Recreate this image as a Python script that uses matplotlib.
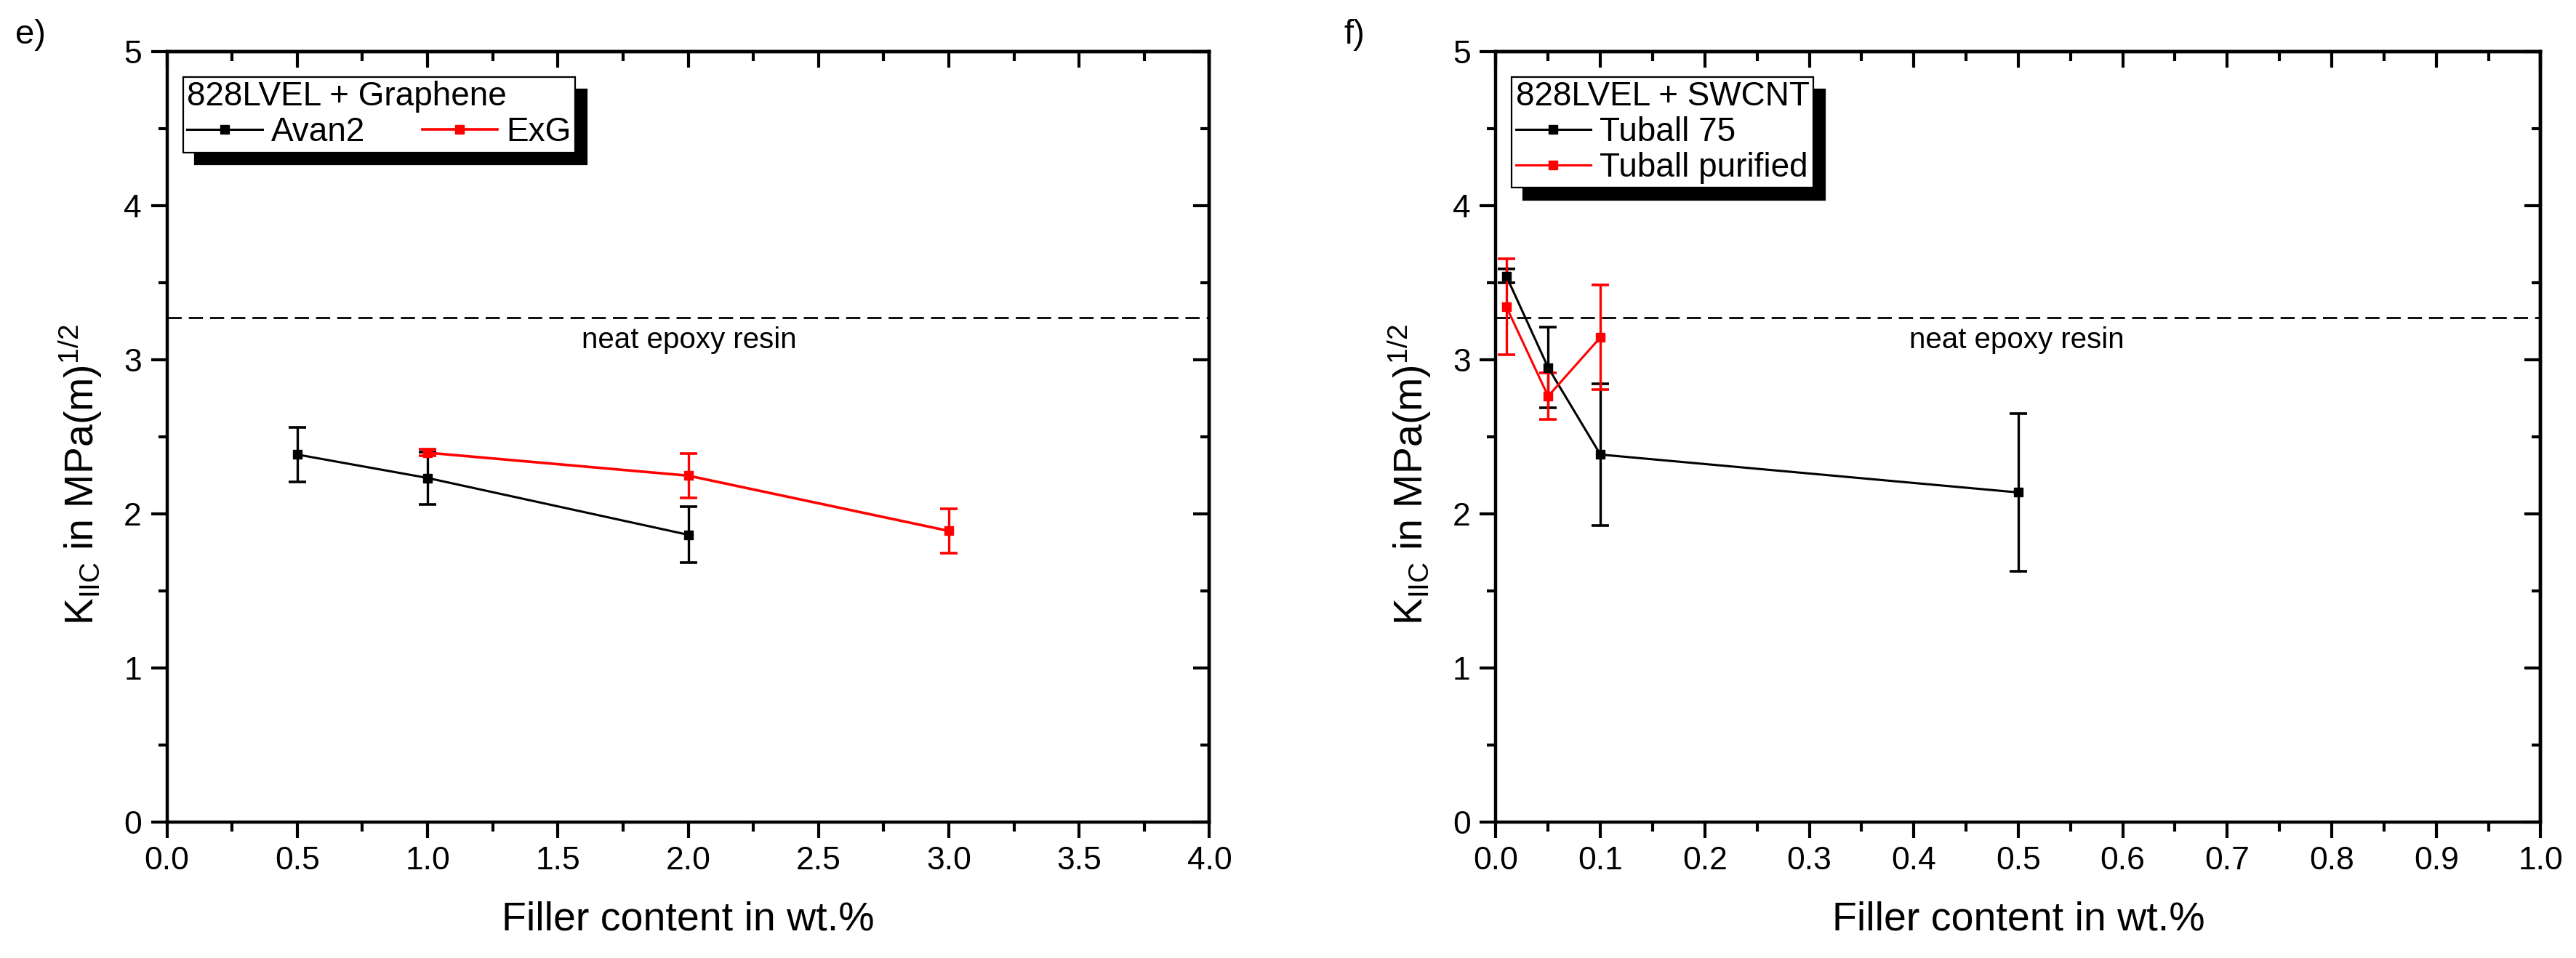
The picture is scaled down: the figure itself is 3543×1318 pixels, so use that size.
import matplotlib
matplotlib.use("Agg")
import matplotlib.pyplot as plt
from matplotlib.ticker import MultipleLocator

plt.rcParams['font.family'] = ['Liberation Sans', 'DejaVu Sans']
plt.rcParams['mathtext.fontset'] = 'custom'
plt.rcParams['mathtext.rm'] = 'Liberation Sans'
plt.rcParams['mathtext.it'] = 'Liberation Sans:italic'

# panel e) graphene
avan2_x = [0.5, 1.0, 2.0]
avan2_y = [2.385, 2.233, 1.864]
avan2_err = [0.177, 0.17, 0.183]
exg_x = [1.0, 2.0, 3.0]
exg_y = [2.397, 2.248, 1.889]
exg_err = [0.022, 0.145, 0.145]

# panel f) SWCNT
t75_x = [0.01, 0.05, 0.1, 0.5]
t75_y = [3.544, 2.950, 2.385, 2.139]
t75_err = [0.045, 0.262, 0.46, 0.512]
tpur_x = [0.01, 0.05, 0.1]
tpur_y = [3.345, 2.764, 3.146]
tpur_err = [0.31, 0.153, 0.34]

neat_resin = 3.275

fig = plt.figure(figsize=(35.43, 13.18), dpi=100)
ax1 = fig.add_axes([0.0648, 0.1422, 0.4047, 0.8036])
ax2 = fig.add_axes([0.5807, 0.1422, 0.4056, 0.8036])

lw_axis = 3.2


def style_axis(ax, xmax, xmaj, xmin):
    ax.set_xlim(0, xmax)
    ax.set_ylim(0, 5)
    ax.xaxis.set_major_locator(MultipleLocator(xmaj))
    ax.xaxis.set_minor_locator(MultipleLocator(xmin))
    ax.yaxis.set_major_locator(MultipleLocator(1))
    ax.yaxis.set_minor_locator(MultipleLocator(0.5))
    for s in ax.spines.values():
        s.set_linewidth(lw_axis)
    ax.tick_params(which='both', direction='out', width=3, labelsize=32)
    ax.tick_params(which='major', length=16)
    ax.tick_params(which='minor', length=9)
    ax.tick_params(axis='x', pad=8)
    ax.tick_params(axis='y', pad=9)

    top = ax.secondary_xaxis('top')
    top.xaxis.set_major_locator(MultipleLocator(xmaj))
    top.xaxis.set_minor_locator(MultipleLocator(xmin))
    top.tick_params(which='both', direction='in', width=3, labeltop=False)
    top.tick_params(which='major', length=16)
    top.tick_params(which='minor', length=9)
    top.spines['top'].set_linewidth(lw_axis)

    right = ax.secondary_yaxis('right')
    right.yaxis.set_major_locator(MultipleLocator(1))
    right.yaxis.set_minor_locator(MultipleLocator(0.5))
    right.tick_params(which='both', direction='in', width=3, labelright=False)
    right.tick_params(which='major', length=16)
    right.tick_params(which='minor', length=9)
    right.spines['right'].set_linewidth(lw_axis)

    ax.axhline(neat_resin, color='black', lw=2.0, linestyle=(0, (7, 3.5)), zorder=1)
    ax.set_xlabel('Filler content in wt.%', fontsize=40)
    ax.xaxis.set_label_coords(0.5, -0.103)
    ax.set_ylabel(r'K$_{\mathrm{IIC}}$ in MPa(m)$^{\mathrm{1/2}}$', fontsize=40)
    ax.yaxis.set_label_coords(-0.0603, 0.4505)


def series(ax, x, y, err, color, label, lw):
    ax.errorbar(x, y, yerr=err, fmt='none', ecolor=color, elinewidth=2.4,
                capsize=8.5, capthick=2.6, zorder=3)
    ax.plot(x, y, color=color, lw=lw, marker='s', markersize=8,
            label=label, zorder=4)


style_axis(ax1, 4.0, 0.5, 0.25)
series(ax1, avan2_x, avan2_y, avan2_err, 'black', 'Avan2', 2.2)
series(ax1, exg_x, exg_y, exg_err, 'red', 'ExG', 2.6)
ax1.text(1.59, 3.13, 'neat epoxy resin', fontsize=29, va='center', ha='left')

style_axis(ax2, 1.0, 0.1, 0.05)
series(ax2, t75_x, t75_y, t75_err, 'black', 'Tuball 75', 2.2)
series(ax2, tpur_x, tpur_y, tpur_err, 'red', 'Tuball purified', 2.2)
ax2.text(0.396, 3.13, 'neat epoxy resin', fontsize=29, va='center', ha='left')

shadow = {'ox': 11.5, 'oy': -12, 'facecolor': 'black', 'edgecolor': 'black', 'alpha': 1}
leg_kw = dict(loc='upper left', bbox_transform=fig.transFigure, fontsize=33,
              title_fontsize=33, alignment='left', fancybox=False, framealpha=1,
              edgecolor='black', borderaxespad=0, borderpad=0.12, labelspacing=0.1,
              handlelength=2.25, handletextpad=0.28, shadow=shadow)

leg1 = ax1.legend(title='828LVEL + Graphene', ncol=2, columnspacing=1.7,
                  bbox_to_anchor=(0.0711, 0.9196), **leg_kw)
leg2 = ax2.legend(title='828LVEL + SWCNT', ncol=1,
                  bbox_to_anchor=(0.5868, 0.9196), **leg_kw)
for leg in (leg1, leg2):
    leg.get_frame().set_linewidth(1.6)
    leg.set_zorder(10)

fig.text(21 / 3543, 1 - 48 / 1318, 'e)', fontsize=34, va='center', ha='left')
fig.text(1848 / 3543, 1 - 48 / 1318, 'f)', fontsize=34, va='center', ha='left')

fig.savefig('out.png', dpi=100)
